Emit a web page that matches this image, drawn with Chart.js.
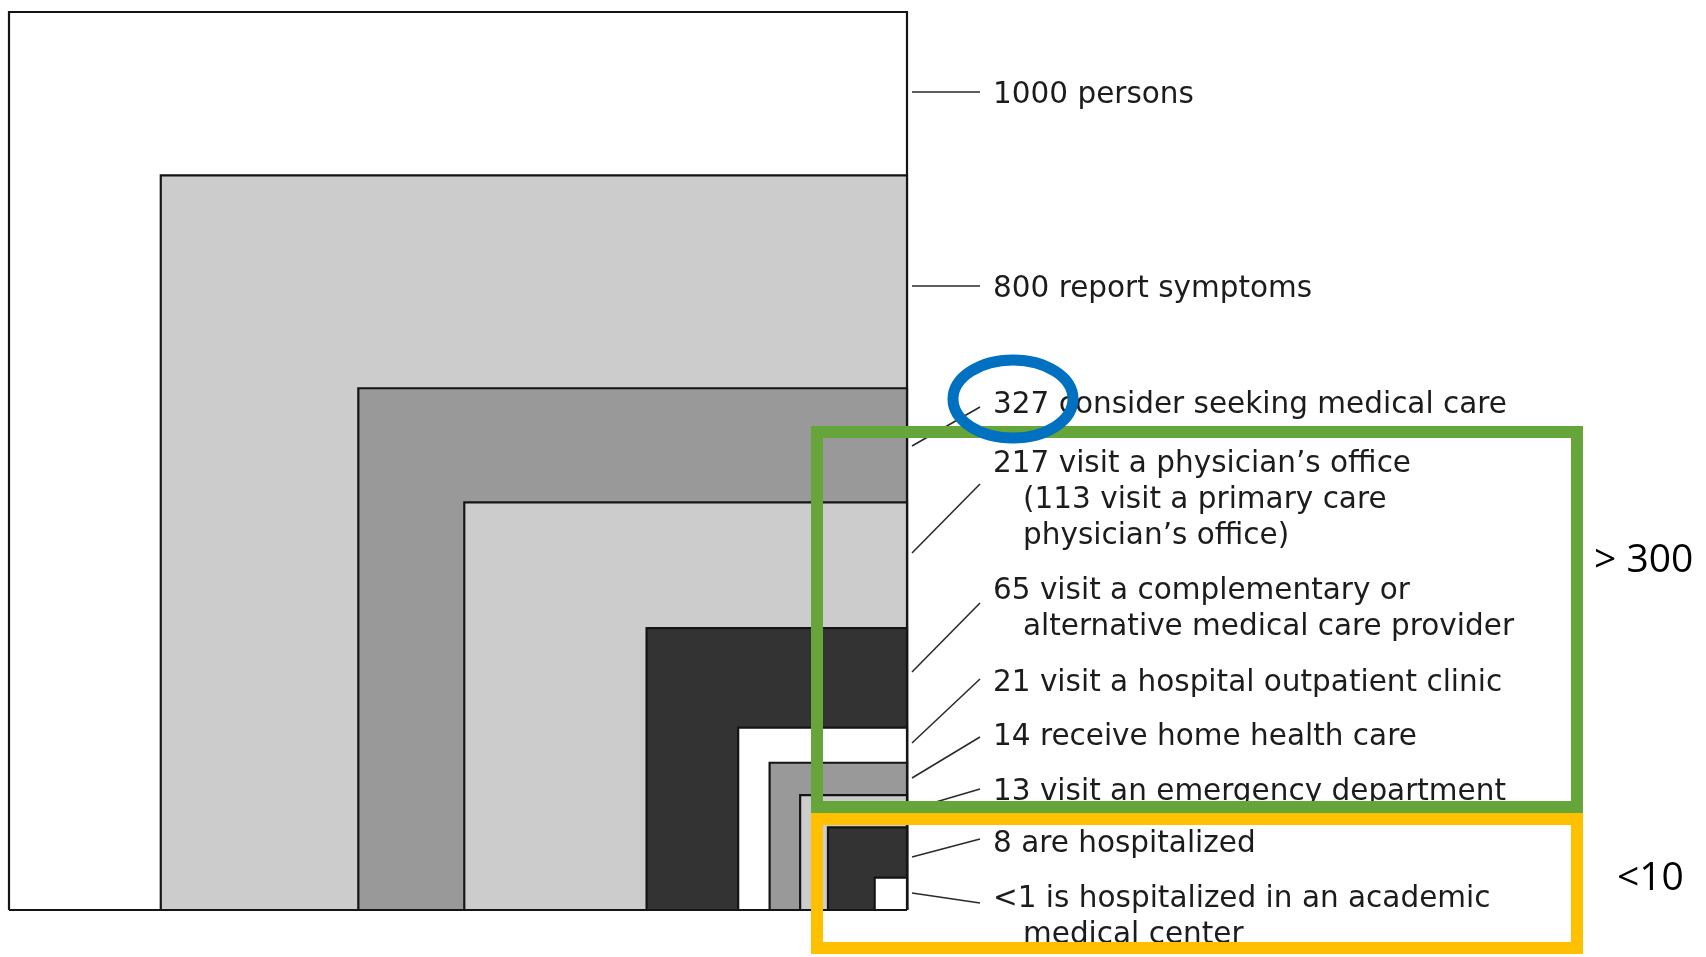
<!DOCTYPE html>
<html lang="en">
<head>
  <meta charset="UTF-8">
  <title>Ecology of medical care</title>
  <style>
    body {
      margin: 0;
      background: #ffffff;
    }
    canvas {
      display: block;
    }
  </style>
</head>
<body>

<canvas id="chart" width="1706" height="957"></canvas>

<script src="https://cdn.jsdelivr.net/npm/chart.js"></script>
<script>

// nested boxes, outer box = 1000 units on each side
const boxWidth  = [1000, 831, 611, 493, 290, 188, 153, 119, 88, 36];
const boxHeight = [1000, 818, 581, 454, 314, 203, 164, 128, 92, 36];
const boxFill = ['#ffffff', '#cccccc', '#999999', '#cccccc', '#333333',
                 '#ffffff', '#999999', '#cccccc', '#333333', '#ffffff'];

const labelLines = [
  ['1000 persons'],
  ['800 report symptoms'],
  ['327 consider seeking medical care'],
  ['217 visit a physician\u2019s office', '(113 visit a primary care', 'physician\u2019s office)'],
  ['65 visit a complementary or', 'alternative medical care provider'],
  ['21 visit a hospital outpatient clinic'],
  ['14 receive home health care'],
  ['13 visit an emergency department'],
  ['8 are hospitalized'],
  ['<1 is hospitalized in an academic', 'medical center']
];

const groupNotes = ['> 300', '<10'];

// layout of the annotation side (pixels)
const labelBaseline = [103, 297, 413, 472, 599, 691, 745, 800, 852, 907];
const leaderFrom = [92, 286, 446, 553, 672, 743, 778, 809, 857, 893];
const leaderTo   = [92, 286, 407, 484, 603, 679, 737, 789, 839, 903];

const datasets = boxWidth.map((w, i) => {
  const h = boxHeight[i];
  const left = 1000 - w;
  return {
    data: [
      { x: left, y: 0 },
      { x: left, y: h },
      { x: 1000, y: h },
      { x: 1000, y: 0 }
    ],
    fill: 'origin',
    backgroundColor: boxFill[i],
    borderColor: '#151515',
    borderWidth: 2.2,
    borderJoinStyle: 'miter',
    pointRadius: 0,
    tension: 0,
    clip: false,
    order: boxWidth.length - i
  };
});

// bottom edge of the outer box
datasets.push({
  data: [{ x: 0, y: 0 }, { x: 1000, y: 0 }],
  fill: false,
  borderColor: '#151515',
  borderWidth: 2.2,
  pointRadius: 0,
  clip: false,
  order: -1
});

const labelsPlugin = {
  id: 'sideLabels',
  afterDraw(chart) {
    const ctx = chart.ctx;
    const right = chart.chartArea.right;
    ctx.save();

    // leader lines
    ctx.strokeStyle = '#2a2a2a';
    ctx.lineWidth = 1.6;
    leaderFrom.forEach((y0, i) => {
      ctx.beginPath();
      ctx.moveTo(right + 5, y0);
      ctx.lineTo(right + 73, leaderTo[i]);
      ctx.stroke();
    });

    // labels
    ctx.fillStyle = '#1c1c1c';
    ctx.font = '29.5px "DejaVu Sans"';
    ctx.textBaseline = 'alphabetic';
    labelLines.forEach((lines, i) => {
      lines.forEach((txt, k) => {
        ctx.fillText(txt, right + 86 + (k > 0 ? 30 : 0), labelBaseline[i] + k * 36);
      });
    });

    // group boxes
    ctx.lineWidth = 12;
    ctx.strokeStyle = '#66a53a';
    ctx.strokeRect(817, 432, 760, 375);
    ctx.strokeStyle = '#ffc000';
    ctx.strokeRect(817, 819, 760, 129);

    // circle round 327
    ctx.strokeStyle = '#0070c0';
    ctx.lineWidth = 11;
    ctx.beginPath();
    ctx.ellipse(1013, 399, 60, 39, 0, 0, Math.PI * 2);
    ctx.stroke();

    ctx.fillStyle = '#000000';
    ctx.font = '39px "Open Sans"';
    ctx.fillText(groupNotes[0], 1594, 572);
    ctx.fillText(groupNotes[1], 1617, 890);

    ctx.restore();
  }
};

new Chart(document.getElementById('chart'), {
  type: 'line',
  data: { datasets: datasets },
  options: {
    responsive: false,
    devicePixelRatio: 1,
    animation: false,
    events: [],
    layout: {
      padding: { left: 9, top: 12, right: 799, bottom: 47 }
    },
    scales: {
      x: { type: 'linear', min: 0, max: 1000, display: false },
      y: { type: 'linear', min: 0, max: 1000, display: false }
    },
    plugins: {
      legend: { display: false },
      tooltip: { enabled: false }
    }
  },
  plugins: [labelsPlugin]
});

</script>

</body>
</html>
